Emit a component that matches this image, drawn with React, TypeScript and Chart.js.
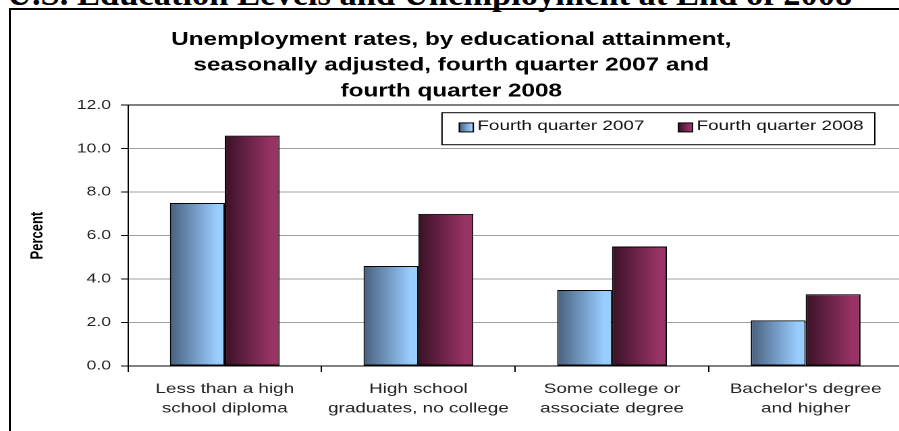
import React, { useEffect, useRef } from "react";
import { Chart, registerables } from "chart.js";

Chart.register(...registerables);

// ---- data ----
const pageTitle = "U.S. Education Levels and Unemployment at End of 2008";
const chartTitleLines = [
  "Unemployment rates, by educational attainment,",
  "seasonally adjusted, fourth quarter 2007 and",
  "fourth quarter 2008",
];
const categories: string[][] = [
  ["Less than a high", "school diploma"],
  ["High school", "graduates, no college"],
  ["Some college or", "associate degree"],
  ["Bachelor's degree", "and higher"],
];
const seriesNames = ["Fourth quarter 2007", "Fourth quarter 2008"];
const q4_2007 = [7.5, 4.6, 3.5, 2.1];
const q4_2008 = [10.6, 7.0, 5.5, 3.3];
const yTitle = "Percent";
const yMin = 0;
const yMax = 12;
const yStep = 2;

// ---- styles ----
const SX = 1.35; // horizontal stretch of the original picture
const FONT = '"Liberation Sans", Arial, Helvetica, sans-serif';
const blueStops: [number, string][] = [
  [0, "#48607e"],
  [0.85, "#99ccff"],
  [1, "#99ccff"],
];
const maroonStops: [number, string][] = [
  [0, "#3a1226"],
  [0.85, "#993366"],
  [1, "#993366"],
];

const gradientPlugin = {
  id: "barGradient",
  beforeDatasetsDraw(chart: any) {
    const ctx = chart.ctx;
    chart.data.datasets.forEach((ds: any, di: number) => {
      const meta = chart.getDatasetMeta(di);
      const stops: [number, string][] = ds.gradientStops;
      meta.data.forEach((el: any) => {
        const { x, width } = el.getProps(["x", "width"], true);
        const l = x - width / 2;
        const g = ctx.createLinearGradient(l, 0, l + width, 0);
        stops.forEach(([o, c]) => g.addColorStop(o, c));
        el.options = Object.assign({}, el.options, { backgroundColor: g });
      });
    });
  },
};

const legendPlugin = {
  id: "insideLegend",
  afterDraw(chart: any) {
    const { ctx, chartArea } = chart;
    const datasets = chart.data.datasets;
    ctx.save();
    ctx.font = `14px ${FONT}`;
    const padL = 13.3,
      sw = 10.4,
      sh = 9,
      gap = 3,
      itemGap = 25.2,
      padR = 8.8,
      h = 33;
    const widths = datasets.map((d: any) => ctx.measureText(d.label).width);
    const total =
      padL +
      padR +
      widths.reduce((a: number, w: number) => a + sw + gap + w, 0) +
      itemGap * (widths.length - 1);
    const right = chartArea.right - 20;
    const left = right - total;
    const top = chartArea.top + 7;
    ctx.fillStyle = "#fff";
    ctx.fillRect(left, top, total, h);
    ctx.strokeStyle = "#000";
    ctx.lineWidth = 1;
    ctx.strokeRect(left + 0.5, top + 0.5, total - 1, h - 1);
    let x = left + padL;
    const cy = top + 15.2;
    datasets.forEach((d: any, i: number) => {
      const g = ctx.createLinearGradient(x, 0, x + sw, 0);
      (d.gradientStops as [number, string][]).forEach(([o, c]) => g.addColorStop(o, c));
      ctx.fillStyle = g;
      ctx.fillRect(x, cy - sh / 2, sw, sh);
      ctx.strokeStyle = "#000";
      ctx.strokeRect(x, cy - sh / 2, sw, sh);
      x += sw + gap;
      ctx.fillStyle = "#111";
      ctx.textBaseline = "middle";
      ctx.textAlign = "left";
      ctx.fillText(d.label, x, top + 13.8);
      x += widths[i] + itemGap;
    });
    ctx.restore();
  },
};

export default function App() {
  const canvasRef = useRef<HTMLCanvasElement | null>(null);

  useEffect(() => {
    if (!canvasRef.current) return;
    const chart = new Chart(canvasRef.current, {
      type: "bar",
      data: {
        labels: categories,
        datasets: [
          {
            label: seriesNames[0],
            data: q4_2007,
            gradientStops: blueStops,
            backgroundColor: "#99ccff",
            borderColor: "#000",
            borderWidth: 1,
            borderSkipped: false,
            categoryPercentage: 0.567,
            barPercentage: 1,
          } as any,
          {
            label: seriesNames[1],
            data: q4_2008,
            gradientStops: maroonStops,
            backgroundColor: "#993366",
            borderColor: "#000",
            borderWidth: 1,
            borderSkipped: false,
            categoryPercentage: 0.567,
            barPercentage: 1,
          } as any,
        ],
      },
      options: {
        animation: false,
        responsive: true,
        maintainAspectRatio: false,
        devicePixelRatio: 2,
        layout: { padding: { top: 0, left: 0, right: 1.5, bottom: 0 } },
        plugins: {
          legend: { display: false },
          tooltip: { enabled: false },
          title: {
            display: true,
            text: chartTitleLines,
            color: "#000",
            font: { family: FONT, size: 18, weight: "bold", lineHeight: 1.43 },
            padding: { top: 27, bottom: 1 },
          },
        },
        scales: {
          x: {
            grid: {
              display: true,
              drawOnChartArea: false,
              drawTicks: true,
              tickLength: 6,
              tickColor: "#000",
              offset: true,
            },
            border: { color: "#000", width: 1 },
            ticks: {
              color: "#222",
              font: { family: FONT, size: 14, lineHeight: 1.38 },
              padding: 7.5,
              maxRotation: 0,
              autoSkip: false,
            },
            afterFit: (s: any) => {
              s.height = 65;
            },
          },
          y: {
            min: yMin,
            max: yMax,
            ticks: {
              stepSize: yStep,
              callback: (v: any) => Number(v).toFixed(1),
              color: "#222",
              font: { family: FONT, size: 13 },
              padding: 7.4,
            },
            grid: {
              color: (c: any) =>
                c.tick && (c.tick.value === yMax || c.tick.value === yMin) ? "#000" : "#a0a0a0",
              tickColor: "#000",
              tickLength: 5.2,
            },
            border: { color: "#000", width: 1 },
            title: {
              display: true,
              text: yTitle,
              color: "#000",
              font: { family: FONT, size: 13, weight: "bold", lineHeight: 1.2 },
              padding: { top: 20.3, bottom: 0 },
            },
            afterFit: (s: any) => {
              s.width = 94.8;
            },
          },
        },
      } as any,
      plugins: [gradientPlugin, legendPlugin],
    });
    return () => chart.destroy();
  }, []);

  return (
    <div
      style={{
        position: "absolute",
        left: 0,
        top: 0,
        width: 899,
        height: 431,
        overflow: "hidden",
        background: "#fff",
      }}
    >
      <div
        style={{
          position: "absolute",
          left: 7,
          top: -24,
          fontFamily: '"Liberation Serif", "Times New Roman", serif',
          fontWeight: "bold",
          fontSize: "34.5px",
          lineHeight: "34.5px",
          whiteSpace: "nowrap",
          color: "#000",
        }}
      >
        {pageTitle}
      </div>
      <div
        style={{
          position: "absolute",
          left: 9,
          top: 8,
          width: 1000,
          height: 1000,
          border: "2px solid #000",
          boxSizing: "border-box",
        }}
      />
      <div
        style={{
          position: "absolute",
          left: 0,
          top: 0,
          width: 670,
          height: 431,
          transform: `scaleX(${SX})`,
          transformOrigin: "0 0",
        }}
      >
        <canvas ref={canvasRef} />
      </div>
    </div>
  );
}
